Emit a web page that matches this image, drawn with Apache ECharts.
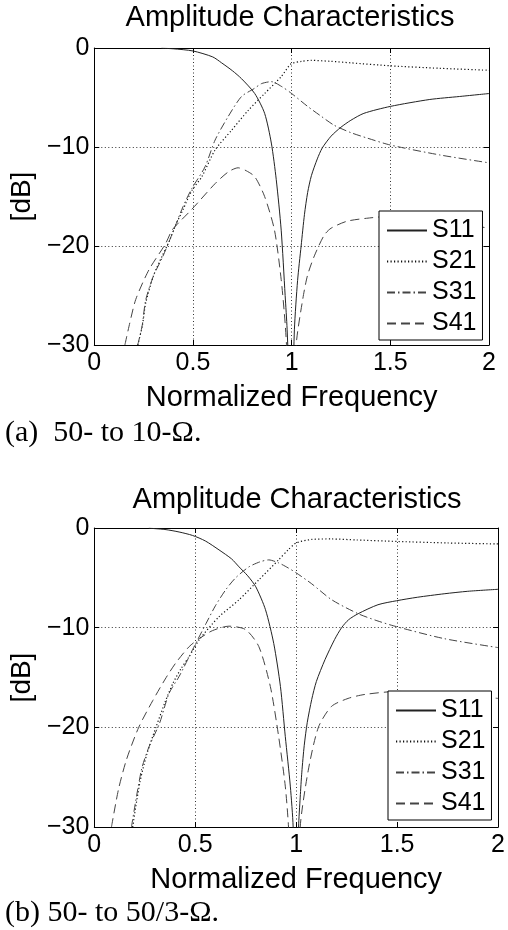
<!DOCTYPE html>
<html><head><meta charset="utf-8">
<script src="https://cdn.jsdelivr.net/npm/echarts@6/dist/echarts.min.js"></script>
<style>html,body{margin:0;padding:0;background:#fff}#c{width:508px;height:930px}</style>
</head><body><div id="c"></div>
<script>
// ---------- labels ----------
const chartTitle = 'Amplitude Characteristics';
const xName = 'Normalized Frequency';
const yName = '[dB]';
const seriesNames = ['S11', 'S21', 'S31', 'S41'];
const captionA = '(a)  50- to 10-\u03A9.';
const captionB = '(b) 50- to 50/3-\u03A9.';
const xMin = 0, xMax = 2, xStep = 0.5;
const yMin = -30, yMax = 0, yStep = 10;

// ---------- chart (a) 50- to 10-ohm ----------
const a_S11_f  = [0.34, 0.40, 0.50, 0.60, 0.645, 0.70, 0.746, 0.813, 0.863, 0.897, 0.922, 0.947, 0.967, 0.977, 0.99, 1.00, 1.008, 1.014, 1.03, 1.048, 1.065, 1.081, 1.10, 1.13, 1.155, 1.20, 1.25, 1.30, 1.366, 1.50, 1.70, 1.85, 2.00];
const a_S11_db = [-0.02, -0.08, -0.3, -0.9, -1.5, -2.3, -3.1, -4.6, -6.6, -9.6, -13.3, -18.4, -25.0, -28.4, -36, -60, -34, -28.4, -23.5, -20.0, -16.8, -14.6, -12.9, -11.2, -10.1, -8.9, -8.0, -7.3, -6.6, -5.9, -5.2, -4.9, -4.6];

const a_S21_f  = [0.22, 0.243, 0.26, 0.30, 0.344, 0.38, 0.41, 0.45, 0.494, 0.545, 0.612, 0.696, 0.78, 0.863, 0.947, 0.997, 1.05, 1.10, 1.20, 1.30, 1.50, 1.75, 2.00];
const a_S21_db = [-30, -28.1, -25.8, -23.0, -21.0, -19.5, -18.0, -16.3, -14.4, -13.0, -10.3, -8.3, -6.3, -4.6, -2.9, -1.6, -1.35, -1.25, -1.35, -1.5, -1.8, -2.05, -2.25];

const a_S31_f  = [0.22, 0.243, 0.26, 0.30, 0.344, 0.38, 0.41, 0.45, 0.494, 0.561, 0.612, 0.679, 0.746, 0.81, 0.847, 0.897, 0.95, 1.00, 1.081, 1.15, 1.215, 1.30, 1.383, 1.50, 1.75, 2.00];
const a_S31_db = [-30, -28.0, -25.5, -23.0, -21.2, -19.5, -18.0, -16.0, -14.2, -12.0, -9.3, -6.9, -4.9, -4.1, -3.6, -3.4, -3.9, -4.6, -5.9, -6.9, -7.8, -8.55, -9.1, -9.8, -10.8, -11.6];

const a_S41_f  = [0.155, 0.176, 0.21, 0.277, 0.36, 0.394, 0.43, 0.494, 0.612, 0.68, 0.729, 0.77, 0.813, 0.863, 0.913, 0.947, 0.967, 0.975, 0.99, 1.00, 1.01, 1.023, 1.056, 1.08, 1.115, 1.165, 1.20, 1.28, 1.38, 1.50, 1.70, 2.00];
const a_S41_db = [-30, -28.1, -25.4, -22.4, -19.8, -18.4, -17.6, -16.3, -13.7, -12.5, -12.1, -12.4, -13.0, -15.0, -18.4, -23.4, -27.8, -30.5, -40, -60, -40, -30, -25.4, -23.0, -21.0, -18.9, -18.2, -17.5, -17.2, -17.0, -17.3, -18.2];

// ---------- chart (b) 50- to 50/3-ohm ----------
const b_S11_f  = [0.27, 0.35, 0.42, 0.487, 0.55, 0.618, 0.68, 0.717, 0.76, 0.80, 0.848, 0.889, 0.922, 0.946, 0.971, 0.985, 0.995, 1.00, 1.005, 1.012, 1.02, 1.028, 1.04, 1.055, 1.077, 1.10, 1.143, 1.19, 1.225, 1.26, 1.307, 1.405, 1.497, 1.60, 1.733, 1.85, 2.00];
const b_S11_db = [-0.02, -0.15, -0.4, -0.75, -1.3, -2.2, -3.1, -3.9, -4.8, -5.9, -8.2, -11.6, -15.9, -20.9, -25.9, -30, -40, -60, -40, -30, -27.0, -24.5, -21.8, -19.5, -17.2, -15.4, -13.2, -11.2, -10.0, -9.2, -8.6, -7.7, -7.3, -6.95, -6.6, -6.35, -6.15];

const b_S21_f  = [0.19, 0.225, 0.26, 0.307, 0.35, 0.389, 0.43, 0.47, 0.52, 0.618, 0.717, 0.815, 0.913, 0.96, 1.00, 1.077, 1.175, 1.30, 1.50, 1.75, 2.00];
const b_S21_db = [-30, -25.6, -22.7, -19.9, -17.5, -15.6, -14.1, -12.9, -11.2, -8.9, -7.2, -5.2, -3.2, -2.2, -1.5, -1.15, -1.1, -1.2, -1.35, -1.5, -1.6];

const b_S31_f  = [0.184, 0.233, 0.27, 0.323, 0.37, 0.42, 0.47, 0.487, 0.553, 0.60, 0.651, 0.70, 0.766, 0.82, 0.864, 0.913, 0.96, 1.00, 1.077, 1.176, 1.307, 1.40, 1.497, 1.733, 2.00];
const b_S31_db = [-30, -24.3, -22.0, -19.6, -16.6, -14.9, -12.9, -12.2, -9.6, -7.8, -6.2, -5.0, -3.9, -3.4, -3.2, -3.5, -4.0, -4.5, -5.6, -7.2, -8.6, -9.3, -9.9, -11.1, -12.0];

const b_S41_f  = [0.085, 0.12, 0.16, 0.22, 0.29, 0.356, 0.405, 0.47, 0.52, 0.585, 0.667, 0.75, 0.815, 0.872, 0.913, 0.946, 0.962, 0.985, 1.00, 1.01, 1.02, 1.06, 1.11, 1.175, 1.257, 1.34, 1.50, 1.75, 2.00];
const b_S41_db = [-30, -26.2, -23.2, -20.0, -17.3, -15.0, -13.5, -11.9, -11.1, -10.3, -9.85, -10.2, -11.9, -15.9, -20.9, -25.9, -30, -40, -60, -40, -30, -24.3, -20.0, -17.9, -17.1, -16.7, -16.4, -16.6, -17.1];

// ---------- build ----------
const pairs = (f, d) => f.map((x, i) => [x, d[i]]);
const chartA = { S11: pairs(a_S11_f, a_S11_db), S21: pairs(a_S21_f, a_S21_db), S31: pairs(a_S31_f, a_S31_db), S41: pairs(a_S41_f, a_S41_db) };
const chartB = { S11: pairs(b_S11_f, b_S11_db), S21: pairs(b_S21_f, b_S21_db), S31: pairs(b_S31_f, b_S31_db), S41: pairs(b_S41_f, b_S41_db) };

const SANS = "'Liberation Sans', Arial, sans-serif";
const SERIF = "'Liberation Serif', 'Times New Roman', serif";
const lineStyles = {
  S11: { color: '#222', width: 1, type: 'solid' },
  S21: { color: '#111', width: 1.2, type: [1.2, 2.3] },
  S31: { color: '#444', width: 1, type: [8, 3, 1.5, 3] },
  S41: { color: '#444', width: 1, type: [9, 5] }
};

const grids = [
  { left: 92, top: 48, width: 397, height: 297 },
  { left: 94, top: 528, width: 407, height: 299 }
];

const xAxes = [], yAxes = [];
grids.forEach((g, gi) => {
  xAxes.push({
    gridIndex: gi, type: 'value', min: xMin, max: xMax, interval: xStep, position: 'bottom',
    name: xName, nameLocation: 'middle', nameGap: 38,
    nameTextStyle: { fontFamily: SANS, fontSize: 29, color: '#000' },
    axisLine: { show: true, onZero: false, lineStyle: { color: '#000', width: 1 } },
    axisTick: { show: true, inside: true, length: 5, lineStyle: { color: '#000' } },
    axisLabel: { fontFamily: SANS, fontSize: 25, color: '#000', margin: 6, showMinLabel: true, showMaxLabel: true },
    splitLine: { show: true, lineStyle: { color: '#333', width: 1, type: [1, 2.5] } }
  });
  xAxes.push({
    gridIndex: gi, type: 'value', min: xMin, max: xMax, interval: xStep, position: 'top',
    axisLine: { show: true, onZero: false, lineStyle: { color: '#000', width: 1 } },
    axisTick: { show: true, inside: true, length: 5, lineStyle: { color: '#000' } },
    axisLabel: { show: false }, splitLine: { show: false }
  });
  yAxes.push({
    gridIndex: gi, type: 'value', min: yMin, max: yMax, interval: yStep, position: 'left',
    name: yName, nameLocation: 'middle', nameGap: 56, nameRotate: 90,
    nameTextStyle: { fontFamily: SANS, fontSize: 28, color: '#000' },
    axisLine: { show: true, onZero: false, lineStyle: { color: '#000', width: 1 } },
    axisTick: { show: true, inside: true, length: 5, lineStyle: { color: '#000' } },
    axisLabel: { fontFamily: SANS, fontSize: 25, color: '#000', margin: 5,
      formatter: v => String(v).replace('-', '\u2212') },
    splitLine: { show: true, lineStyle: { color: '#333', width: 1, type: [1, 2.5] } }
  });
  yAxes.push({
    gridIndex: gi, type: 'value', min: yMin, max: yMax, interval: yStep, position: 'right',
    axisLine: { show: true, onZero: false, lineStyle: { color: '#000', width: 1 } },
    axisTick: { show: true, inside: true, length: 5, lineStyle: { color: '#000' } },
    axisLabel: { show: false }, splitLine: { show: false }
  });
});

const series = [];
[chartA, chartB].forEach((data, gi) => {
  seriesNames.forEach(n => {
    series.push({
      name: n, type: 'line', xAxisIndex: gi * 2, yAxisIndex: gi * 2,
      data: data[n], showSymbol: false, symbol: 'none', smooth: 0.25, clip: true,
      lineStyle: lineStyles[n], itemStyle: { color: lineStyles[n].color },
      emphasis: { disabled: true }, animation: false
    });
  });
});

const legendBase = {
  orient: 'vertical', data: seriesNames, itemWidth: 40, itemHeight: 14, itemGap: 6,
  padding: [7, 6, 4, 7], borderColor: '#000', borderWidth: 1, backgroundColor: '#fff',
  textStyle: { fontFamily: SANS, fontSize: 25, color: '#000', lineHeight: 24 },
  itemStyle: { opacity: 0, borderWidth: 0 },
  selectedMode: false, z: 10
};

const option = {
  backgroundColor: '#fff',
  animation: false,
  grid: grids,
  xAxis: xAxes,
  yAxis: yAxes,
  series: series,
  legend: [
    Object.assign({}, legendBase, { left: 379, top: 211 }),
    Object.assign({}, legendBase, { left: 388, top: 691 })
  ],
  graphic: [
    { type: 'text', x: 290, y: 18, style: { text: chartTitle, font: '29px ' + SANS, fill: '#000', align: 'center', verticalAlign: 'middle' } },
    { type: 'text', x: 297, y: 500, style: { text: chartTitle, font: '29px ' + SANS, fill: '#000', align: 'center', verticalAlign: 'middle' } },
    { type: 'text', x: 5, y: 433, style: { text: captionA, font: '30px ' + SERIF, fill: '#000', align: 'left', verticalAlign: 'middle' } },
    { type: 'text', x: 5, y: 913, style: { text: captionB, font: '30px ' + SERIF, fill: '#000', align: 'left', verticalAlign: 'middle' } }
  ]
};

const chart = echarts.init(document.getElementById('c'), null, { renderer: 'canvas' });
chart.setOption(option);
</script>
</body></html>
